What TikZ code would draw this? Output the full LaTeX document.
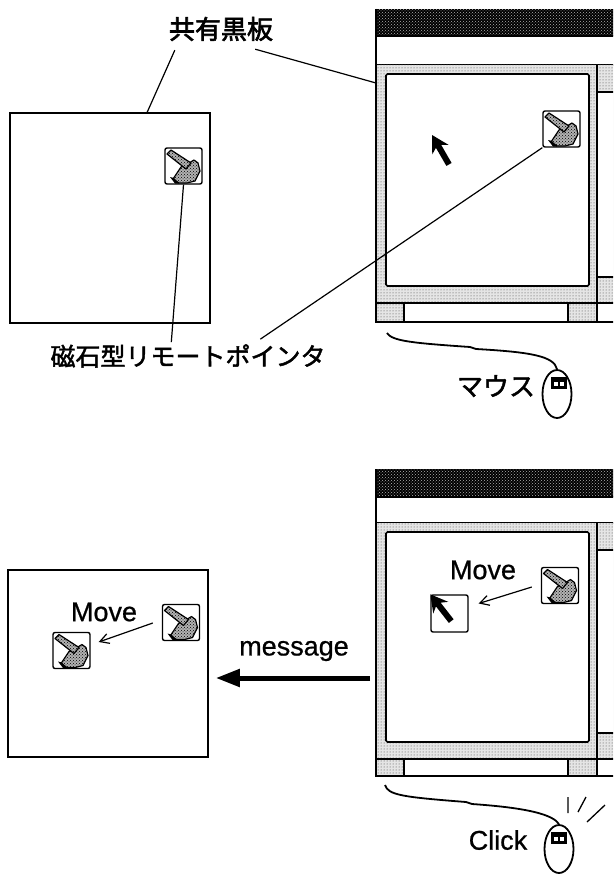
\documentclass[tikz,border=0pt]{standalone}
\usepackage{fontspec}
\setmainfont{Liberation Sans}
\newfontfamily\latinfont{Liberation Sans}[FakeBold=0.7]
\newfontfamily\jpbold{Noto Sans CJK JP}[FakeBold=2.5]
\newfontfamily\jpmed{Noto Sans CJK JP}[FakeBold=1.8]
\usetikzlibrary{arrows.meta,shapes.geometric,patterns,calc}

\tikzset{
  board/.style={draw, line width=1.6, inner sep=0, minimum width=200},
  icon/.style={draw, line width=1.4, rounded corners=2, fill=white,
    inner sep=0, minimum width=37, minimum height=36},
  leader/.style={line width=1.2},
  movearrow/.style={line width=1.2, -{Straight Barb[length=9,width=10,line width=1.2]}},
  bigarrow/.style={line width=5, -{Triangle[length=24,width=17]}},
  mouse/.style={ellipse, draw, line width=1.8, minimum width=29, minimum height=48, inner sep=0},
  cord/.style={line width=1.8},
  latin/.style={font=\latinfont\fontsize{27}{27}\selectfont, inner sep=0},
  stipple/.style={pattern=dots, pattern color=black!75},
  handfill/.style={fill=black!30},
  handdots/.style={pattern=crosshatch dots, pattern color=black},
  hand/.pic={
    \begin{scope}[shift={(-18.5,-18)}]
      \path[handfill]
        (8,31) -- (16,19) -- (24,15) -- (29,12) -- (33,15) -- (35,23)
        -- (30,33) -- (22,35) -- (14,35) -- cycle;
      \path[handdots]
        (8,31) -- (16,19) -- (24,15) -- (29,12) -- (33,15) -- (35,23)
        -- (30,33) -- (22,35) -- (14,35) -- cycle;
      \draw[line width=1.2, line join=round]
        (8,31) -- (16,19) -- (24,15) -- (29,12) -- (33,15) -- (35,23)
        -- (30,33) -- (22,35) -- (14,35) -- cycle;
      \fill (5,29) -- (9,30) -- (14,35.5) -- (10,35.5) -- cycle;
      \path[fill=white] (2,6) -- (6,2) -- (26,15) -- (21,21) -- cycle;
      \path[handfill] (2,6) -- (6,2) -- (26,15) -- (21,21) -- cycle;
      \path[handdots] (2,6) -- (6,2) -- (26,15) -- (21,21) -- cycle;
      \draw[line width=1.2, line join=round]
        (2,6) -- (6,2) -- (26,15) -- (21,21) -- cycle;
    \end{scope}
  },
  cursor/.pic={
    \fill (0,0) -- (17,9.5) -- (13,3) -- (34,3) -- (34,-3)
      -- (13,-3) -- (17,-9.5) -- cycle;
  },
  button/.pic={
    \fill (-8,-6) rectangle (8,6);
    \fill[white] (-5,-1.5) rectangle (-1.2,2.5);
    \fill[white] (1.2,-1.5) rectangle (5,2.5);
  }
}

% Workstation window: title bar, menu strip, shared board area, side
% column and status bar.  Arguments are the y values of the edges.
\newcommand\winframe[5]{%
  \fill[black] (376,#1) rectangle (640,#2);
  \fill[pattern=crosshatch dots, pattern color=black!30] (376,#1) rectangle (640,#2);
  \draw[line width=1.4] (376,#2) rectangle (640,#3);
  \fill[black!10] (376,#3) rectangle (640,#4);
  \fill[stipple] (376,#3) rectangle (640,#4);
  \draw[line width=1.6, fill=white, rounded corners=1.5]
    (386,#3+9) rectangle (589,#4-17);
  \draw[line width=1.4, fill=white] (597,#3+27) rectangle (640,#4-26);
  \fill[black!10] (376,#4) rectangle (404,#5);
  \fill[stipple] (376,#4) rectangle (404,#5);
  \fill[black!10] (568,#4) rectangle (597,#5);
  \fill[stipple] (568,#4) rectangle (597,#5);
  \draw[line width=1.4] (376,#1) -- (376,#5) -- (640,#5);
  \draw[line width=1.4] (376,#4) -- (640,#4);
  \draw[line width=1.4] (597,#3) -- (597,#5);
  \draw[line width=1.2] (404,#4) -- (404,#5) (568,#4) -- (568,#5);
}

\begin{document}
\begin{tikzpicture}[x=1pt, y=-1pt]
  \useasboundingbox (0,0) rectangle (613,875);
  \clip (0,0) rectangle (613,875);

  % ---------------- upper scene: pointer magnets on the boards
  \winframe{9}{36}{65}{303}{322}
  \node[board, minimum height=210] (boardA) at (110,218) {};
  \node[icon] (iconA) at (183.5,166) {};
  \pic at (iconA) {hand};
  \node[icon] (iconB) at (561.5,129) {};
  \pic at (iconB) {hand};
  \pic[rotate=-60] at (432,135) {cursor};

  \node[font=\jpbold\fontsize{26}{26}\selectfont, inner sep=0] (title) at (221,29) {共有黒板};
  \node[font=\jpmed\fontsize{25}{25}\selectfont, inner sep=0] (magnet) at (188,356) {磁石型リモートポインタ};

  \coordinate (winA-edge) at (376,83);
  \draw[leader] ($(title.south west)+(6,9)$) -- ($(boardA.north west)+(138,0)$);
  \draw[leader] ($(title.south east)+(-18,8)$) -- (winA-edge);
  \draw[leader] (iconA.south) -- ($(magnet.north west)+(121,-2)$);
  \draw[leader] (iconB.south west) -- ($(magnet.north west)+(210,-5)$);

  \node[mouse] (mouseA) at (557,394) {};
  \pic at ($(mouseA.center)+(2,-11)$) {button};
  \coordinate (cordA) at (387,333);
  \draw[cord] (cordA) .. controls (392,341) and (412,343) .. (470,347)
    -- (476,349) .. controls (530,352) and (554,356) .. (mouseA.north);
  \node[font=\jpmed\fontsize{26}{26}\selectfont, inner sep=0] (mouselabel) at (496,386) {マウス};

  % ---------------- lower scene: a move is sent as a message
  \winframe{469}{497}{523}{759}{776}
  \node[board, minimum height=187] (boardB) at (108,663.5) {};

  \node[icon] (iconD) at (560,585.5) {};
  \pic at (iconD) {hand};
  \node[icon, minimum height=37] (cbox) at (449.5,613.5) {};
  \pic[rotate=-52] at (cbox.north west) {cursor};
  \node[latin] (moveD) at (483,570) {Move};
  \draw[movearrow] ($(iconD.west)+(-9,1.5)$) -- ($(cbox.east)+(10,-10)$);

  \node[icon] (iconE) at (181,622.5) {};
  \pic at (iconE) {hand};
  \node[icon] (iconF) at (71.5,650.5) {};
  \pic at (iconF) {hand};
  \node[latin] (moveE) at (104,612) {Move};
  \draw[movearrow] ($(iconE.west)+(-9,0.5)$) -- ($(iconF.east)+(8,-8.5)$);

  \coordinate (winB-edge) at (376,678);
  \node[latin] (msg) at (294,651) {message};
  \draw[bigarrow] ($(winB-edge)+(-6,0)$) -- ($(boardB.east)+(7,14.5)$);

  \node[mouse] (mouseB) at (559,849) {};
  \pic at ($(mouseB.center)+(0,-11)$) {button};
  \coordinate (cordB) at (385,785);
  \draw[cord] (cordB) .. controls (388,795) and (402,797) .. (466,802)
    -- (472,804) .. controls (530,808) and (553,815) .. (mouseB.north);
  \node[latin] (click) at (498,840) {Click};

  % click marks next to the mouse
  \coordinate (spark1a) at (568,797); \coordinate (spark1b) at (568,813);
  \coordinate (spark2a) at (586,797); \coordinate (spark2b) at (578,812);
  \coordinate (spark3a) at (605,805); \coordinate (spark3b) at (587,822);
  \draw[line width=1.3] (spark1a) -- (spark1b) (spark2a) -- (spark2b) (spark3a) -- (spark3b);
\end{tikzpicture}
\end{document}
